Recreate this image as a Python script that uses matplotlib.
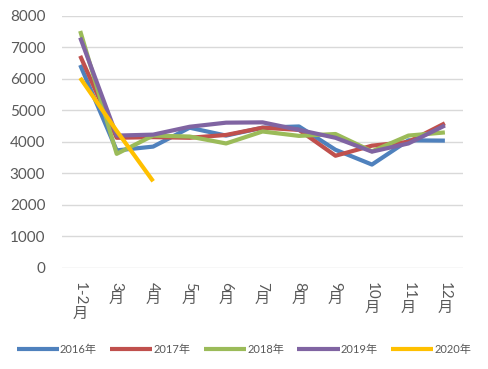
import matplotlib.pyplot as plt

plt.rcParams['font.family'] = ['Lato', 'Noto Sans CJK SC', 'DejaVu Sans']

# 数据
months = ["1-2", "3", "4", "5", "6", "7", "8", "9", "10", "11", "12"]
y2016 = [6440, 3730, 3850, 4450, 4200, 4450, 4490, 3750, 3280, 4050, 4040]
y2017 = [6730, 4130, 4150, 4130, 4220, 4450, 4380, 3560, 3880, 4000, 4590]
y2018 = [7520, 3620, 4200, 4170, 3950, 4330, 4190, 4250, 3700, 4200, 4300]
y2019 = [7310, 4200, 4230, 4480, 4610, 4620, 4380, 4130, 3690, 3950, 4520]
y2020 = [6030, 4350, 2750]

series = [("2016年", y2016, "#4F81BD"),
          ("2017年", y2017, "#C0504D"),
          ("2018年", y2018, "#9BBB59"),
          ("2019年", y2019, "#8064A2"),
          ("2020年", y2020, "#FFC000")]

fig = plt.figure(figsize=(4.88, 3.69), dpi=100)
ax = fig.add_axes([0.127, 0.274, 0.822, 0.683])

for name, vals, col in series:
    ax.plot(range(len(vals)), vals, color=col, lw=3, label=name, solid_capstyle='butt')

ax.set_xlim(-0.5, 10.5)
ax.set_ylim(0, 8000)
ax.set_yticks(range(0, 8001, 1000))
ax.grid(axis='y', color='#D9D9D9', lw=1)
ax.set_axisbelow(True)
for s in ax.spines.values():
    s.set_visible(False)
ax.tick_params(axis='y', length=0, labelsize=11, labelcolor='#595959', pad=12)
ax.set_xticks(range(len(months)))
ax.tick_params(axis='x', length=0, labelbottom=False)

# 竖排的月份标签：数字旋转，"月"直立
fig.canvas.draw()
r = fig.canvas.get_renderer()
for i, m in enumerate(months):
    x_fig = fig.transFigure.inverted().transform(ax.transData.transform((i, 0)))[0]
    y_top = 1 - 282 / 369
    t = fig.text(x_fig, y_top, m, rotation=270, ha='center', va='top',
                 fontsize=11, color='#595959')
    bb = t.get_window_extent(r)
    y_next = bb.y0 / (369) + 0.002
    fig.text(x_fig, y_next, "月", ha='center', va='top', fontsize=11,
             color='#595959', family=['Noto Sans CJK SC'])

fig.legend(loc='center', bbox_to_anchor=(0.5, 1 - 349 / 369), ncol=5, frameon=False,
           fontsize=8, labelcolor='#595959', handlelength=3.8, handletextpad=0.1,
           columnspacing=1.2)

plt.savefig("out.png", dpi=100)
